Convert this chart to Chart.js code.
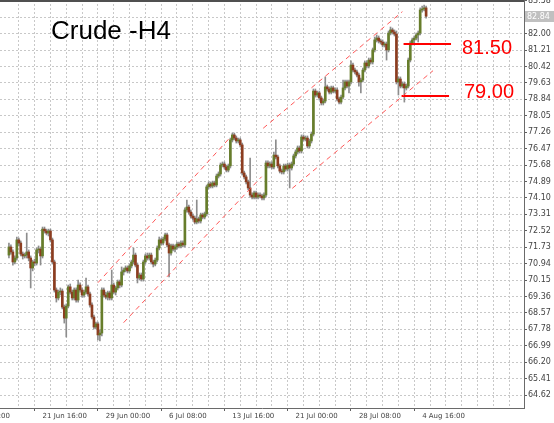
<!DOCTYPE html>
<html><head><meta charset="utf-8">
<script src="https://cdn.jsdelivr.net/npm/chart.js@4.4.0/dist/chart.umd.min.js"></script>
<style>html,body{margin:0;padding:0;background:#fff;overflow:hidden}canvas{display:block}</style>
</head><body>
<canvas id="c" width="554" height="423"></canvas>
<script>
// ---- DATA (H4 bars) ----
const opens = [
71.35,71.74,71.50,71.02,71.21,72.08,71.93,71.40,71.31,71.35,
71.50,71.21,70.73,71.02,70.97,71.60,71.64,71.31,72.60,72.51,
72.41,72.51,72.08,71.02,69.67,69.29,69.57,69.62,68.85,68.32,
68.90,69.82,69.57,69.29,69.67,69.19,69.91,69.67,69.43,69.57,
69.82,69.48,68.95,68.37,67.89,68.04,67.51,67.60,69.67,69.43,
69.33,69.53,69.29,69.91,69.57,69.77,70.06,69.91,70.54,70.63,
70.73,70.59,70.83,71.02,71.35,70.87,70.25,70.39,70.20,71.02,
71.31,71.21,71.35,71.02,70.92,71.11,71.69,72.08,71.93,72.12,
72.32,71.84,71.45,71.79,71.64,71.74,71.88,71.79,71.93,71.84,
73.52,73.66,73.42,73.23,73.13,72.94,73.09,72.99,73.28,73.18,
73.33,74.63,74.77,74.67,74.82,74.72,75.15,75.25,75.68,75.73,
75.59,75.44,75.64,76.89,77.13,76.98,76.84,76.89,76.65,75.30,
75.11,74.87,74.58,74.24,74.14,74.34,74.14,74.24,74.19,74.10,
74.24,75.78,75.64,75.73,75.59,76.16,76.07,75.64,75.39,75.35,
75.64,75.49,75.68,75.54,75.73,76.12,76.31,76.50,76.36,77.03,
76.93,76.98,76.60,76.84,77.17,79.24,79.05,79.15,78.91,78.67,
78.76,79.44,79.34,79.19,79.39,79.24,79.29,78.86,78.71,78.95,
79.39,79.68,79.48,79.68,80.49,80.25,80.16,80.01,79.68,79.77,
80.25,80.59,80.45,80.73,80.64,81.22,81.70,81.79,81.65,81.60,
81.46,81.50,81.22,82.03,82.18,82.08,81.98,79.68,79.82,79.48,
79.58,79.39,79.48,80.73,81.55,81.70,81.79,81.94,82.03,83.14,
83.19,83.24];
const highs = [
71.93,71.84,71.60,71.31,72.22,72.17,72.03,71.50,71.45,72.41,
71.60,71.31,71.11,71.16,71.69,71.79,71.74,72.70,72.70,72.60,
72.60,72.60,72.17,71.11,69.77,69.67,69.77,69.72,68.95,69.00,
69.91,69.96,69.67,69.77,69.77,70.15,70.01,69.77,69.67,70.25,
69.91,69.57,69.05,68.47,68.13,68.13,67.75,69.77,69.77,69.57,
69.62,69.62,70.63,70.01,69.86,70.15,70.15,70.78,70.73,70.83,
70.83,70.92,71.11,71.69,71.45,70.97,70.49,70.49,71.11,71.40,
71.45,71.45,71.45,71.11,71.21,71.79,72.22,72.17,72.22,72.41,
72.41,71.93,71.88,71.88,71.84,71.98,71.98,72.03,72.03,73.62,
74.00,73.76,73.52,73.33,73.23,74.00,73.18,73.37,73.37,73.42,
74.72,74.87,74.87,74.91,74.91,75.25,75.35,75.78,75.83,75.83,
75.68,75.73,76.98,77.22,77.22,77.08,76.98,76.98,76.74,75.39,
75.20,74.96,76.02,74.34,74.43,74.43,74.34,74.34,74.29,74.34,
75.88,75.88,75.83,75.83,76.31,76.89,76.16,75.73,75.49,75.73,
75.73,75.78,75.78,75.83,76.21,76.41,76.60,76.60,77.13,77.13,
77.08,77.08,76.93,77.27,79.34,79.34,79.24,79.24,79.00,78.86,
79.92,79.53,79.44,79.48,79.48,79.39,79.39,78.95,79.05,79.77,
79.77,79.77,79.77,80.69,80.59,80.35,80.25,80.11,79.87,80.35,
80.69,80.69,80.83,80.83,81.31,81.84,81.94,81.89,81.74,81.70,
81.60,81.60,82.13,82.32,82.27,82.18,82.13,79.92,79.92,79.68,
79.68,79.58,80.83,81.65,81.79,81.89,82.03,82.13,83.24,83.33,
83.38,83.33];
const lows = [
71.21,71.40,70.87,70.92,71.11,71.79,71.31,71.16,71.21,71.21,
71.07,69.77,70.59,70.83,70.87,71.45,70.87,71.21,72.41,72.32,
72.27,71.98,70.92,69.57,69.09,69.19,69.43,68.76,68.08,67.41,
68.81,69.48,69.19,69.19,69.09,69.09,69.57,69.33,69.33,69.48,
69.38,68.85,68.28,67.80,67.80,67.27,67.22,67.46,69.33,69.24,
69.19,69.19,69.19,69.48,69.43,69.67,69.77,69.82,70.39,70.54,
70.49,70.49,70.73,70.92,70.78,70.01,70.15,70.10,70.10,70.92,
71.11,71.11,70.92,70.78,70.83,71.02,71.60,71.84,71.84,72.03,
71.74,70.30,71.35,71.55,71.50,71.64,71.69,71.69,71.74,71.74,
73.42,73.33,73.13,73.04,72.85,72.85,72.89,72.89,73.09,73.09,
73.23,74.53,74.58,74.58,74.63,74.63,75.06,75.15,75.59,75.49,
75.35,75.35,75.54,76.79,76.89,76.74,76.74,76.55,75.20,75.01,
74.77,74.48,74.14,74.05,74.05,74.05,74.05,74.10,74.00,74.00,
74.14,75.54,75.54,75.49,75.49,75.97,75.54,75.30,75.25,75.25,
75.39,75.39,74.58,75.44,75.64,76.02,76.21,76.26,76.26,76.84,
76.84,76.50,76.50,76.74,77.08,78.95,78.95,78.81,78.57,78.57,
78.67,79.24,79.10,79.10,79.15,79.15,78.76,78.62,78.62,78.86,
79.29,79.39,79.15,79.58,80.16,80.06,79.92,79.48,79.15,79.68,
80.16,80.35,80.35,80.54,80.54,81.12,81.60,81.55,81.50,81.36,
81.36,80.73,81.12,81.94,81.98,81.89,79.58,79.05,79.39,79.39,
78.71,79.29,79.39,80.64,81.46,81.46,81.70,81.60,81.94,83.04,
83.09,82.75];
const closes = [
71.74,71.50,71.02,71.21,72.08,71.93,71.40,71.31,71.35,71.50,
71.21,70.73,71.02,70.97,71.60,71.64,71.31,72.60,72.51,72.41,
72.51,72.08,71.02,69.67,69.29,69.57,69.62,68.85,68.32,68.90,
69.82,69.57,69.29,69.67,69.19,69.91,69.67,69.43,69.57,69.82,
69.48,68.95,68.37,67.89,68.04,67.51,67.60,69.67,69.43,69.33,
69.53,69.29,69.91,69.57,69.77,70.06,69.91,70.54,70.63,70.73,
70.59,70.83,71.02,71.35,70.87,70.25,70.39,70.20,71.02,71.31,
71.21,71.35,71.02,70.92,71.11,71.69,72.08,71.93,72.12,72.32,
71.84,71.45,71.79,71.64,71.74,71.88,71.79,71.93,71.84,73.52,
73.66,73.42,73.23,73.13,72.94,73.09,72.99,73.28,73.18,73.33,
74.63,74.77,74.67,74.82,74.72,75.15,75.25,75.68,75.73,75.59,
75.44,75.64,76.89,77.13,76.98,76.84,76.89,76.65,75.30,75.11,
74.87,74.58,74.24,74.14,74.34,74.14,74.24,74.19,74.10,74.24,
75.78,75.64,75.73,75.59,76.16,76.07,75.64,75.39,75.35,75.64,
75.49,75.68,75.54,75.73,76.12,76.31,76.50,76.36,77.03,76.93,
76.98,76.60,76.84,77.17,79.24,79.05,79.15,78.91,78.67,78.76,
79.44,79.34,79.19,79.39,79.24,79.29,78.86,78.71,78.95,79.39,
79.68,79.48,79.68,80.49,80.25,80.16,80.01,79.68,79.77,80.25,
80.59,80.45,80.73,80.64,81.22,81.70,81.79,81.65,81.60,81.46,
81.50,81.22,82.03,82.18,82.08,81.98,79.68,79.82,79.48,79.58,
79.39,79.48,80.73,81.55,81.70,81.79,81.94,82.03,83.14,83.19,
83.24,82.84];

const xTickIdx    = [-22, 17, 49, 81, 113, 145, 177, 209];
const xTickLabels = ['14 Jun 08:00','21 Jun 16:00','29 Jun 00:00','6 Jul 08:00','13 Jul 16:00','21 Jul 00:00','28 Jul 08:00','4 Aug 16:00'];
const yTicks = [64.62,65.41,66.20,66.99,67.78,68.57,69.36,70.15,70.94,71.73,72.52,73.31,74.10,74.89,75.68,76.47,77.26,78.05,78.84,79.63,80.42,81.21,82.00,82.79,83.58];
const lastPrice = 82.84;

// channel trend lines: [barIndex, price] end points
const channelUpper1 = [[45.0, 70.02], [111.5, 76.97]];
const channelLower1 = [[58.0, 68.10], [127.8, 75.12]];
const channelUpper2 = [[128.6, 77.45], [199.0, 83.06]];
const channelLower2 = [[143.3, 74.56], [214.5, 80.22]];

// marked levels
const levelValues = [81.50, 79.00];
const levelFrom   = [199.6, 198.6];
const levelTo     = [223.6, 222.6];
const levelText   = ['81.50', '79.00'];
const chartTitle  = 'Crude -H4';

// ---- CHART ----
Chart.defaults.font.family = '"DejaVu Sans", sans-serif';
const bull = '#677d2b', bear = '#8c3d20';
const idx = opens.map((_, i) => i);
const wickData = idx.map(i => ({x: i, y: [lows[i], highs[i]]}));
const bodyData = idx.map(i => ({x: i, y: [opens[i], closes[i]]}));
const seg = pts => pts.map(p => ({x: p[0], y: p[1]}));
const chanStyle = {type: 'line', borderColor: 'rgba(255,70,70,0.9)', borderWidth: 1, borderDash: [5, 4], pointRadius: 0, fill: false, order: 0};

// vertical grid every 8 bars, labelled every 32 bars
const xTickValues = [xTickIdx[0]];
for (let v = 1; v <= 256; v += 8) xTickValues.push(v);

const datasets = [
  {type: 'bar', data: wickData, backgroundColor: '#8d8d8d', barThickness: 1, grouped: false, order: 3},
  {type: 'bar', data: bodyData, backgroundColor: c => closes[c.dataIndex] >= opens[c.dataIndex] ? bull : bear,
   barThickness: 2, minBarLength: 1, grouped: false, order: 2},
  Object.assign({data: seg(channelUpper1)}, chanStyle),
  Object.assign({data: seg(channelLower1)}, chanStyle),
  Object.assign({data: seg(channelUpper2)}, chanStyle),
  Object.assign({data: seg(channelLower2)}, chanStyle)
];
levelValues.forEach((v, k) => datasets.push({
  type: 'line', data: [{x: levelFrom[k], y: v}, {x: levelTo[k], y: v}],
  borderColor: '#ff0000', borderWidth: 2, pointRadius: 0, fill: false, order: 0
}));

const overlay = {
  id: 'overlay',
  afterDraw(chart) {
    const {ctx, chartArea, scales: {y}} = chart;
    ctx.save();
    ctx.strokeStyle = '#505050'; ctx.lineWidth = 2;
    ctx.beginPath(); ctx.moveTo(0, 1); ctx.lineTo(chartArea.right, 1); ctx.stroke();
    ctx.textAlign = 'left'; ctx.textBaseline = 'alphabetic';
    ctx.fillStyle = '#000'; ctx.font = '26px "Liberation Sans", Arial, sans-serif';
    ctx.fillText(chartTitle, 51, 39);
    ctx.fillStyle = '#ff0000'; ctx.font = '20px "Liberation Sans", Arial, sans-serif';
    ctx.fillText(levelText[0], 462, 54);
    ctx.fillText(levelText[1], 464, 98);
    const py = y.getPixelForValue(lastPrice);
    ctx.fillStyle = '#c0c0c0';
    ctx.fillRect(chartArea.right + 1, Math.round(py) - 5, 29, 11);
    ctx.fillStyle = '#ffffff'; ctx.font = '8px "DejaVu Sans", sans-serif'; ctx.textBaseline = 'middle';
    ctx.fillText(lastPrice.toFixed(2), chartArea.right + 3, py + 0.5);
    ctx.restore();
  }
};

new Chart(document.getElementById('c'), {
  data: {datasets},
  plugins: [overlay],
  options: {
    responsive: false, animation: false, devicePixelRatio: 1,
    layout: {padding: 0},
    plugins: {legend: {display: false}, tooltip: {enabled: false}, title: {display: false}},
    scales: {
      x: {
        type: 'linear', position: 'bottom', min: -0.5, max: 256.5,
        afterBuildTicks: s => { s.ticks = xTickValues.map(v => ({value: v})); },
        afterFit: s => { s.height = 15; s.paddingLeft = 0; s.paddingRight = 0; },
        ticks: {autoSkip: false, maxRotation: 0, minRotation: 0, align: 'start', padding: 1,
                color: '#444', font: {size: 7},
                callback: v => { const j = xTickIdx.indexOf(v); return j >= 0 ? xTickLabels[j] : ''; }},
        grid: {color: '#c8c8c8', lineWidth: 1, tickLength: 3, tickWidth: 1,
               tickColor: c => (c.tick && xTickIdx.includes(c.tick.value)) ? '#606060' : 'rgba(0,0,0,0)'},
        border: {display: true, color: '#6a6a6a', width: 1, dash: [2, 2]}
      },
      y: {
        type: 'linear', position: 'right', min: 63.995, max: 83.62,
        afterBuildTicks: s => { s.ticks = yTicks.map(v => ({value: v})); },
        afterFit: s => { s.width = 30; s.paddingTop = 0; s.paddingBottom = 0; },
        ticks: {autoSkip: false, padding: 1, color: '#444', font: {size: 8}, callback: v => v.toFixed(2)},
        grid: {color: '#c8c8c8', lineWidth: 1, tickLength: 3, tickColor: '#606060'},
        border: {display: true, color: '#6a6a6a', width: 1, dash: [2, 2]}
      }
    }
  }
});
</script>
</body></html>
